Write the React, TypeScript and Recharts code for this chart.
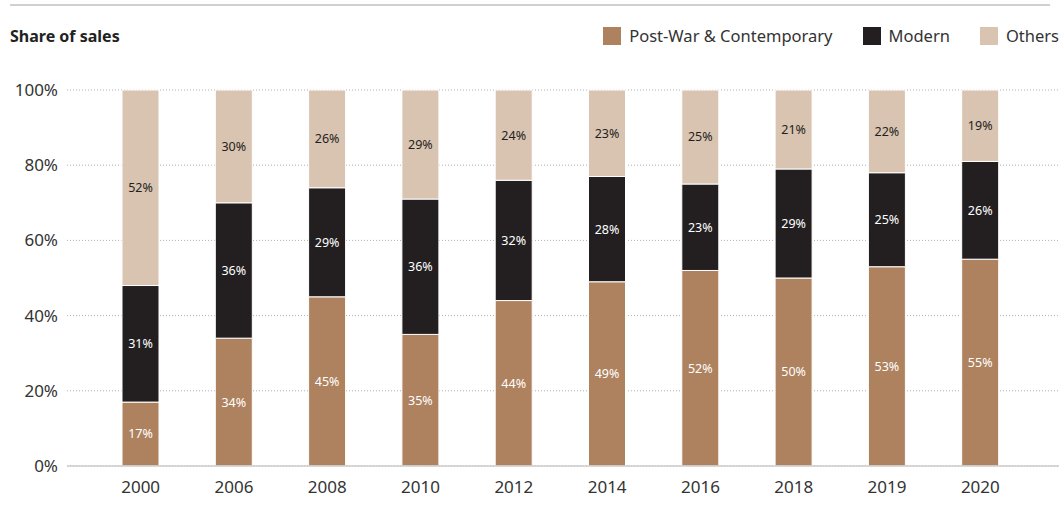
import React from "react";
import {
  BarChart,
  Bar,
  XAxis,
  YAxis,
  CartesianGrid,
  LabelList,
} from "recharts";

// ── Data ─────────────────────────────────────────────────────────────

const years = ["2000", "2006", "2008", "2010", "2012", "2014", "2016", "2018", "2019", "2020"];
const postWar = [17, 34, 45, 35, 44, 49, 52, 50, 53, 55];
const modern = [31, 36, 29, 36, 32, 28, 23, 29, 25, 26];
const others = [52, 30, 26, 29, 24, 23, 25, 21, 22, 19];
const yTicks = [0, 20, 40, 60, 80, 100];

const series = [
  { key: "postWar", name: "Post-War & Contemporary", color: "#ae825e", label: "#ffffff" },
  { key: "modern", name: "Modern", color: "#231f20", label: "#ffffff" },
  { key: "others", name: "Others", color: "#d9c4b1", label: "#231f20" },
];

const data = years.map((year, i) => ({
  year,
  postWar: postWar[i],
  modern: modern[i],
  others: others[i],
}));

const FONT = "'Noto Sans', 'Open Sans', sans-serif";

// ── Legend ───────────────────────────────────────────────────────────

function ChartLegend() {
  return (
    <div
      style={{
        position: "absolute",
        right: 0,
        top: 25,
        display: "flex",
        alignItems: "center",
        fontFamily: FONT,
      }}
    >
      {series.map((s, i) => (
        <div
          key={s.key}
          style={{ display: "flex", alignItems: "center", marginLeft: i === 0 ? 0 : 30 }}
        >
          <span style={{ width: 18, height: 18, background: s.color, display: "inline-block", marginRight: 8 }} />
          <span style={{ fontSize: 16.5, color: "#333", lineHeight: "22px" }}>{s.name}</span>
        </div>
      ))}
    </div>
  );
}

// ── Component ────────────────────────────────────────────────────────

export default function App() {
  return (
    <div style={{ position: "absolute", left: 0, top: 0, width: 1059, height: 531, background: "#fff", fontFamily: FONT }}>
      <div style={{ position: "absolute", left: 10, top: 4, width: 1040, height: 2, background: "#d0d0d0" }} />
      <div style={{ position: "absolute", left: 10, top: 25, fontSize: 16, fontWeight: 700, color: "#222" }}>
        Share of sales
      </div>
      <ChartLegend />
      <div style={{ position: "absolute", left: 0, top: 0 }}>
        <BarChart
          width={1059}
          height={531}
          data={data}
          margin={{ top: 90, right: 0, bottom: 35, left: 0 }}
        >
          <CartesianGrid vertical={false} stroke="#b0b0b0" strokeDasharray="1 2" />
          <XAxis
            dataKey="year"
            tickLine={false}
            tickSize={0}
            tickMargin={15}
            height={30}
            padding={{ left: 27, right: 32 }}
            axisLine={{ stroke: "#cccccc", strokeWidth: 1.5 }}
            tick={{ fontSize: 17, fill: "#333", fontFamily: FONT }}
          />
          <YAxis
            domain={[0, 100]}
            ticks={yTicks}
            width={67}
            tickLine={false}
            tickSize={0}
            tickMargin={9}
            axisLine={false}
            tickFormatter={(v: number) => `${v}%`}
            tick={{ fontSize: 17, fill: "#333", fontFamily: FONT }}
          />
          {series.map((s) => (
            <Bar
              key={s.key}
              dataKey={s.key}
              name={s.name}
              stackId="a"
              fill={s.color}
              barSize={37}
              stroke="#ffffff"
              strokeWidth={1}
              isAnimationActive={false}
            >
              <LabelList
                dataKey={s.key}
                position="center"
                formatter={(v: number) => `${v}%`}
                style={{ fontSize: 12.5, fill: s.label, fontFamily: FONT }}
              />
            </Bar>
          ))}
        </BarChart>
      </div>
    </div>
  );
}
